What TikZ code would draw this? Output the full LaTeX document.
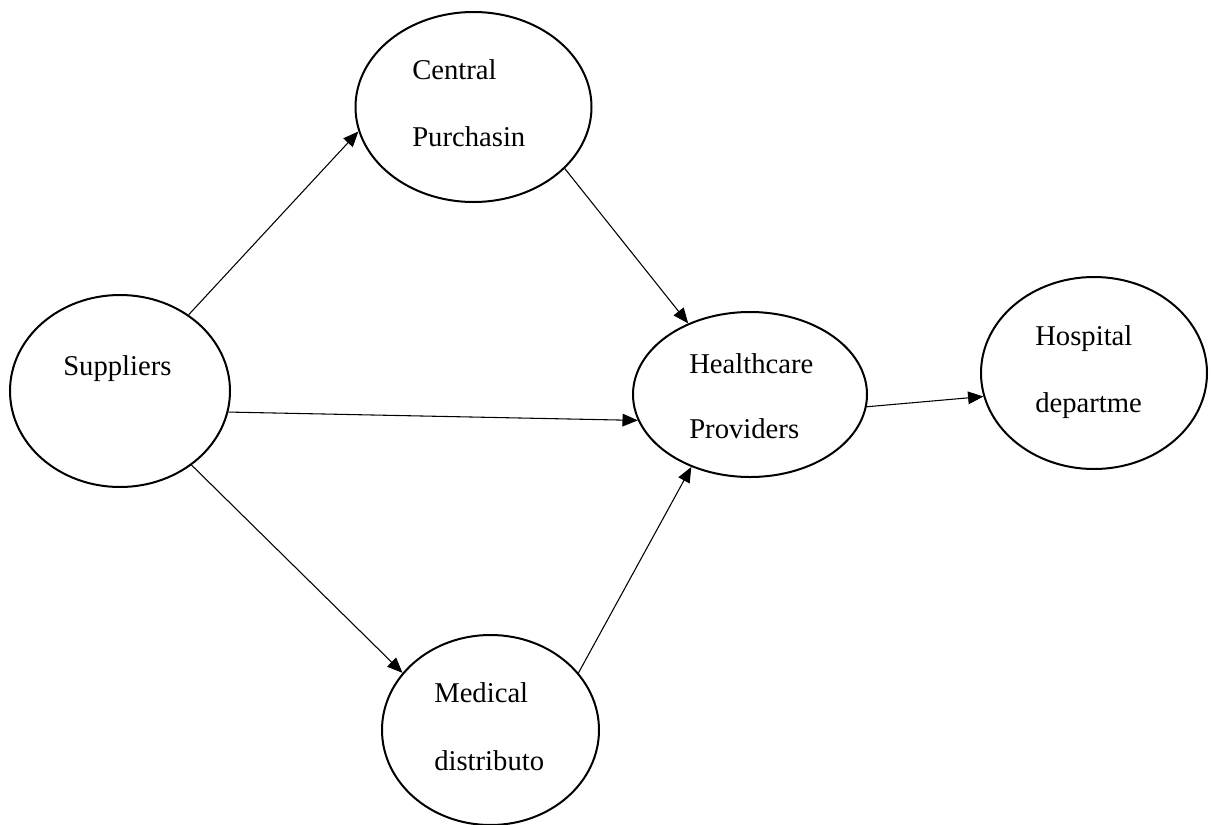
\documentclass[tikz,border=0pt]{standalone}
\usepackage{fontspec}
\setmainfont{Liberation Serif}
\usetikzlibrary{shapes.geometric,arrows.meta}
\begin{document}
\begin{tikzpicture}[x=0.75pt,y=-0.75pt,
  bubble/.style={ellipse, draw, line width=1.5pt, inner sep=0pt},
  lbl/.style={anchor=base west, inner sep=0pt, font=\fontsize{21.5pt}{26pt}\selectfont},
  flow/.style={line width=0.8pt, -{Triangle[length=11.5pt,width=9.5pt]}}]
\useasboundingbox (0,0) rectangle (1211,825);

% entities
\node[bubble, minimum width=165pt, minimum height=144pt] (sup) at (120,391) {};
\node[bubble, minimum width=177pt, minimum height=142.5pt] (cp) at (473.5,107) {};
\node[bubble, minimum width=175.5pt, minimum height=123.75pt] (hp) at (750,394.5) {};
\node[bubble, minimum width=169.5pt, minimum height=144pt] (hd) at (1094,373) {};
\node[bubble, minimum width=162.75pt, minimum height=142.5pt] (md) at (490.5,730) {};

% labels
\node[lbl] (supA) at (63,375) {Suppliers};
\node[lbl] (cpA) at (412,79) {Central};
\node[lbl] (cpB) at (412,146) {Purchasin};
\node[lbl] (hpA) at (689,373) {Healthcare};
\node[lbl] (hpB) at (689,438) {Providers};
\node[lbl] (hdA) at (1035,345) {Hospital};
\node[lbl] (hdB) at (1035,412) {departme};
\node[lbl] (mdA) at (434,702) {Medical};
\node[lbl] (mdB) at (434,770) {distributo};

% flows
\draw[flow] (sup.48) -- (cp.192);
\draw[flow] (cp.-34.4) -- (hp.131.3);
\draw[flow] (sup.-11.4) -- (hp.193.8);
\draw[flow] (sup.-46.5) -- (md.147.6);
\draw[flow] (md.33.5) -- (hp.231.7);
\draw[flow] (hp.-6.6) -- (hd.192.9);
\end{tikzpicture}
\end{document}
